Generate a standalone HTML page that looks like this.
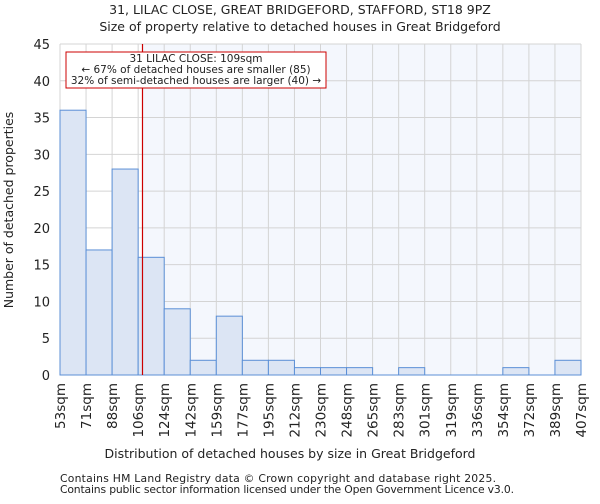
<!DOCTYPE html>
<html><head><meta charset="utf-8"><style>
body{margin:0;background:#fff;font-family:"DejaVu Sans","Liberation Sans",sans-serif}
svg text{font-family:"DejaVu Sans","Liberation Sans",sans-serif;fill:#222}
</style></head><body>
<svg id="chart" width="600" height="500">
<text x="300" y="14" font-size="12.5" text-anchor="middle">31, LILAC CLOSE, GREAT BRIDGEFORD, STAFFORD, ST18 9PZ</text>
<text x="300" y="31" font-size="12.5" text-anchor="middle">Size of property relative to detached houses in Great Bridgeford</text>
<g id="plot"></g>
<text x="290" y="458" font-size="12.5" text-anchor="middle">Distribution of detached houses by size in Great Bridgeford</text>
<text transform="translate(13,210) rotate(-90)" font-size="12.5" text-anchor="middle">Number of detached properties</text>
<text x="60" y="482" font-size="10.8" textLength="436">Contains HM Land Registry data © Crown copyright and database right 2025.</text>
<text x="60" y="493" font-size="10.8" textLength="454">Contains public sector information licensed under the Open Government Licence v3.0.</text>
</svg>
<script>
const binLabels=["53sqm","71sqm","88sqm","106sqm","124sqm","142sqm","159sqm","177sqm","195sqm","212sqm","230sqm","248sqm","265sqm","283sqm","301sqm","319sqm","336sqm","354sqm","372sqm","389sqm","407sqm"];
const counts=[36,17,28,16,9,2,8,2,2,1,1,1,0,1,0,0,0,1,0,2];
const yTicks=[0,5,10,15,20,25,30,35,40,45];
const markerValue=109;
const binEdges=[53,71,88,106,124,142,159,177,195,212,230,248,265,283,301,319,336,354,372,389,407];
const NS="http://www.w3.org/2000/svg";
const L=60,R=581,T=44,B=375,yMax=45;
const g=document.getElementById('plot');
const xi=i=>L+(R-L)*i/counts.length;
const y=v=>B-(B-T)*v/yMax;
function xv(v){for(let i=0;i<binEdges.length-1;i++){if(v<=binEdges[i+1])return xi(i)+(v-binEdges[i])/(binEdges[i+1]-binEdges[i])*(xi(i+1)-xi(i));}return R;}
function mk(t,a){const e=document.createElementNS(NS,t);for(const k in a)e.setAttribute(k,a[k]);g.appendChild(e);return e;}
const mx=xv(markerValue);
let e=mk('rect',{x:mx,y:T,width:R-mx,height:B-T,fill:'#f4f7fd'});


yTicks.forEach(v=>{let l=mk('line',{x1:L,x2:R,y1:y(v),y2:y(v),stroke:'#d4d4d4','stroke-width':1});


let t=mk('text',{x:L-10,y:y(v)+5,'font-size':13,'text-anchor':'end'});t.textContent=v;

});
binLabels.forEach((s,i)=>{let l=mk('line',{x1:xi(i),x2:xi(i),y1:T,y2:B,stroke:'#d4d4d4','stroke-width':1});


let t=mk('text',{transform:`translate(${xi(i)+5},${B+8}) rotate(-90)`,'font-size':13.5,'text-anchor':'end'});t.textContent=s;

});
counts.forEach((c,i)=>{if(c<=0)return;let r=mk('rect',{x:xi(i),y:y(c),width:xi(i+1)-xi(i),height:B-y(c),fill:'#dce5f4',stroke:'#5b8fd6','stroke-width':1});

});
let ax=mk('line',{x1:L,x2:R,y1:B,y2:B,stroke:'#5b8fd6','stroke-width':1});


let ml=mk('line',{x1:mx,x2:mx,y1:T,y2:B,stroke:'#cc0000','stroke-width':1.2});


let box=mk('rect',{x:66,y:52,width:260,height:36,fill:'#fff',stroke:'#cc0000','stroke-width':1});


["31 LILAC CLOSE: 109sqm","← 67% of detached houses are smaller (85)","32% of semi-detached houses are larger (40) →"].forEach((s,i)=>{let t=mk('text',{x:196,y:62+i*11,'font-size':10.5,'text-anchor':'middle'});t.textContent=s;

});
</script>
</body></html>
